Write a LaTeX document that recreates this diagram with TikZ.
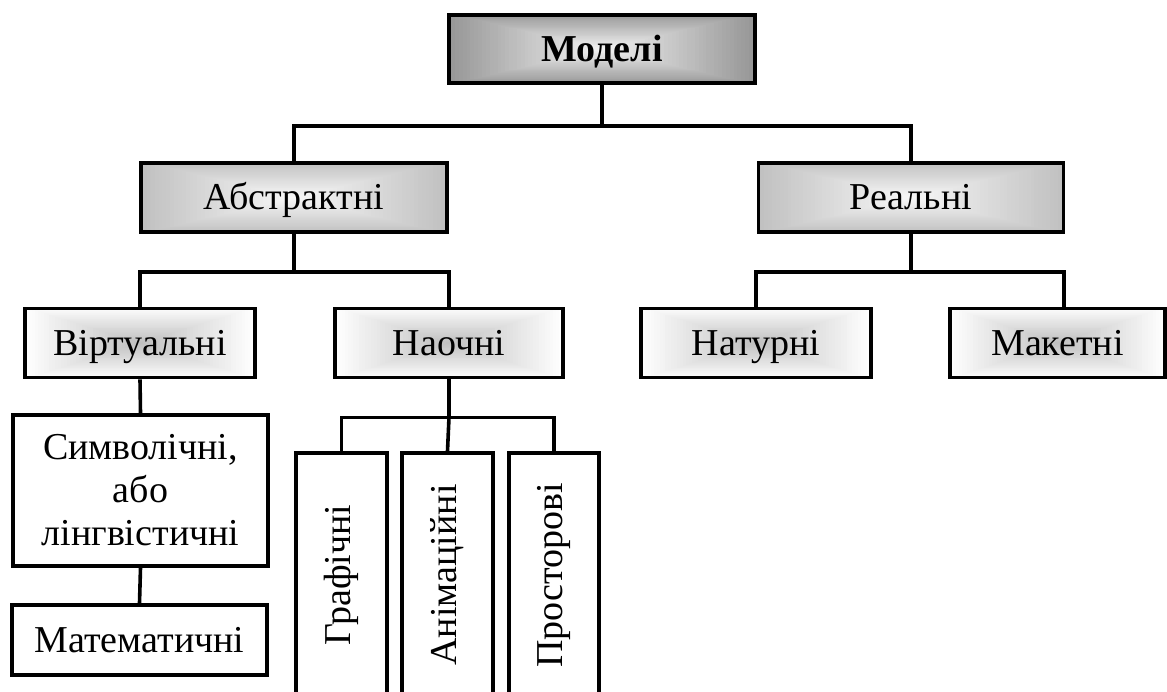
\documentclass[tikz,border=0pt]{standalone}
\usepackage{fontspec}
\setmainfont{Liberation Serif}
\usetikzlibrary{backgrounds,calc}

% outer and inner colours of the box gradients
\definecolor{topOut}{RGB}{150,150,150}
\definecolor{topIn}{RGB}{242,242,242}
\definecolor{midOut}{RGB}{192,192,192}
\definecolor{midIn}{RGB}{247,247,247}
\definecolor{lowOut}{RGB}{255,255,255}
\definecolor{lowIn}{RGB}{192,192,192}

% rectangular gradient filling a node: #1 node, #2 edge colour, #3 centre colour
\newcommand\rectgrad[3]{%
  \foreach \k in {0,...,39}{%
    \pgfmathsetmacro\f{1-\k/40}%
    \pgfmathtruncatemacro\p{\k*100/39}%
    \fill[#3!\p!#2] ($(#1.center)!\f!(#1.south west)$) rectangle ($(#1.center)!\f!(#1.north east)$);
  }}

\begin{document}
\begin{tikzpicture}[x=1pt,y=-1pt,
  box/.style={draw, line width=3.6pt, rectangle, inner sep=0pt, align=center,
    font=\fontsize{38}{43}\selectfont},
  oneline/.style={box, text height=31pt, text depth=7pt},
  link/.style={line width=3.6pt},
]
\useasboundingbox (0,0) rectangle (1167,691);
\clip (0,0) rectangle (1167,691);

% level 0
\node[oneline, minimum width=306pt, minimum height=68pt,
  font=\bfseries\fontsize{38}{43}\selectfont] (mod) at (602,49) {Моделі};

% level 1
\node[oneline, minimum width=306pt, minimum height=69pt] (abs) at (294,197.5) {Абстрактні};
\node[oneline, minimum width=305pt, minimum height=69pt] (real) at (911,197.5) {Реальні};

% level 2
\node[oneline, minimum width=230pt, minimum height=69pt] (virt) at (140,343) {Віртуальні};
\node[oneline, minimum width=228pt, minimum height=69pt] (vis) at (449,343) {Наочні};
\node[oneline, minimum width=230pt, minimum height=69pt] (nat) at (756,343) {Натурні};
\node[oneline, minimum width=215pt, minimum height=69pt] (mak) at (1057.5,343) {Макетні};

% level 3
\node[box, minimum width=255pt, minimum height=151pt] (sym) at (140.5,490.5)
  {Символічні,\\або\\лінгвістичні};
\node[oneline, minimum width=255pt, minimum height=70pt] (math) at (139.5,640) {Математичні};
\node[box, minimum width=91pt, minimum height=244pt] (gra) at (341.5,575) {\rotatebox{90}{Графічні}};
\node[box, minimum width=91pt, minimum height=244pt] (ani) at (447.5,575) {\rotatebox{90}{Анімаційні}};
\node[box, minimum width=90pt, minimum height=244pt] (pro) at (554,575) {\rotatebox{90}{Просторові}};

% connectors
\coordinate (b1) at (602,126);
\draw[link] (mod.south) -- (b1);
\draw[link] (abs.north) |- (b1) -| (real.north);

\path (abs.south) ++(0,38) coordinate (b2);
\draw[link] (abs.south) -- (b2);
\draw[link] (virt.north) |- (b2) -| (vis.north);
\draw[link] (virt.south) -- (sym.north);
\draw[link] (sym.south) -- (math.north);

\path (vis.south) ++(0,38) coordinate (b3);
\draw[link] (vis.south) -- (b3);
\draw[link] (gra.north) |- (b3) -| (pro.north);
\draw[link] (b3) -- (ani.north);

\path (real.south) ++(0,38) coordinate (b4);
\path (b4) ++(153,0) coordinate (mdrop);
\draw[link] (real.south) -- (b4);
\draw[link] (nat.north) |- (b4) -- (mdrop) -- (mdrop |- mak.north);

% fills behind the boxes
\begin{pgfonlayer}{background}
  \fill[white] (0,0) rectangle (1167,691);
  \rectgrad{mod}{topOut}{topIn}
  \rectgrad{abs}{midOut}{midIn}
  \rectgrad{real}{midOut}{midIn}
  \rectgrad{virt}{lowOut}{lowIn}
  \rectgrad{vis}{lowOut}{lowIn}
  \rectgrad{nat}{lowOut}{lowIn}
  \rectgrad{mak}{lowOut}{lowIn}
\end{pgfonlayer}
\end{tikzpicture}
\end{document}
